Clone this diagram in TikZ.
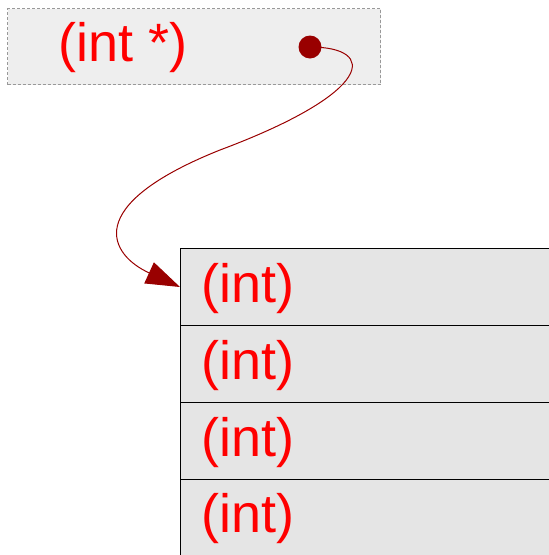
\documentclass[tikz,border=0pt]{standalone}
\usepackage{fontspec}
\setmainfont{Liberation Sans}
\usetikzlibrary{arrows.meta}
\definecolor{ptrred}{HTML}{990000}
\definecolor{topfill}{HTML}{EEEEEE}
\definecolor{rowfill}{HTML}{E5E5E5}
\tikzset{
  lbl/.style={anchor=base west, inner sep=0pt, text=red, font=\fontsize{54}{62}\selectfont},
  rowbox/.style={draw=black, fill=rowfill, line width=1pt, anchor=north west, minimum width=400pt, minimum height=77pt, inner sep=0pt},
  ptrbox/.style={draw=gray!80, dashed, dash pattern=on 3pt off 2pt, fill=topfill, line width=1pt, anchor=north west, minimum width=373pt, minimum height=76pt, inner sep=0pt},
  dotstyle/.style={circle, fill=ptrred, minimum size=23pt, inner sep=0pt},
  ptrline/.style={draw=ptrred, line width=1pt, -{Triangle[length=34pt,width=23pt]}}
}
\begin{document}
\begin{tikzpicture}[x=1pt,y=-1pt]
\clip (0,0) rectangle (549,555);
\node[ptrbox] (pb) at (7,8) {};
\node[lbl] (pt) at (58.5,61) {(int *)};
\node[dotstyle] (p) at (310,47) {};
\node[rowbox] (r1) at (180,248) {};
\node[rowbox] (r2) at (180,325) {};
\node[rowbox] (r3) at (180,402) {};
\node[rowbox] (r4) at (180,479) {};
\node[lbl] (t1) at (201.5,302) {(int)};
\node[lbl] (t2) at (201.5,379) {(int)};
\node[lbl] (t3) at (201.5,456) {(int)};
\node[lbl] (t4) at (201.5,532) {(int)};
\coordinate (m) at (220,150);
\draw[ptrline] (p.center) .. controls (378,47) and (375,92) .. (m) .. controls (80,206) and (110,255) .. (r1.west);
\end{tikzpicture}
\end{document}
